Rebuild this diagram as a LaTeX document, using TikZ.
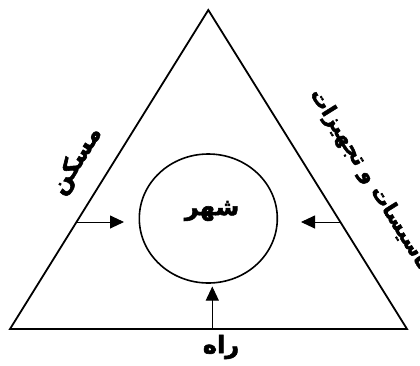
\documentclass[tikz,border=0pt]{standalone}
\usepackage{fontspec}
\usetikzlibrary{arrows.meta,shapes.geometric,calc}
\newfontfamily\arabicfont[Script=Arabic,FakeBold=2.5]{DejaVu Sans Bold}
\TeXXeTstate=1
\tikzset{
  side/.style={line width=1.8pt, line join=miter},
  ring/.style={ellipse, draw, line width=1.6pt, minimum width=138pt, minimum height=129pt, inner sep=0pt},
  push/.style={line width=0.9pt, -{Triangle[length=14pt,width=13pt]}},
  lbl/.style={font=\arabicfont\fontsize{24pt}{28pt}\selectfont, inner sep=0pt},
  lblside/.style={font=\arabicfont\fontsize{21pt}{25pt}\selectfont, inner sep=0pt}
}
\begin{document}
\begin{tikzpicture}[x=1pt,y=-1pt]
\useasboundingbox (0,0) rectangle (420,365);
\coordinate (A) at (208.3,10);
\coordinate (B) at (10,329);
\coordinate (C) at (407,329);
\draw[side] (A) -- (B) -- (C) -- cycle;
\node[ring] (city) at (208.3,218.5) {};
\node[lbl] (cityname) at (212,211) {\beginR شهر\endR};
\coordinate (lstart) at (76.5,222);
\coordinate (ltip) at (124,222);
\coordinate (rstart) at (340.3,222);
\coordinate (rtip) at (301,222);
\coordinate (bstart) at (212.3,329);
\coordinate (btip) at (212.3,286.5);
\draw[push] (lstart) -- (ltip);
\draw[push] (rstart) -- (rtip);
\draw[push] (bstart) -- (btip);
\node[lbl, rotate=58] (housing) at (77,161) {\beginR مسکن\endR};
\node[lblside, rotate=-58] (facilities) at (370,180) {\beginR تاسیسات و تجهیزات\endR};
\node[lbl] (road) at (221,347) {\beginR راه\endR};
\end{tikzpicture}
\end{document}
